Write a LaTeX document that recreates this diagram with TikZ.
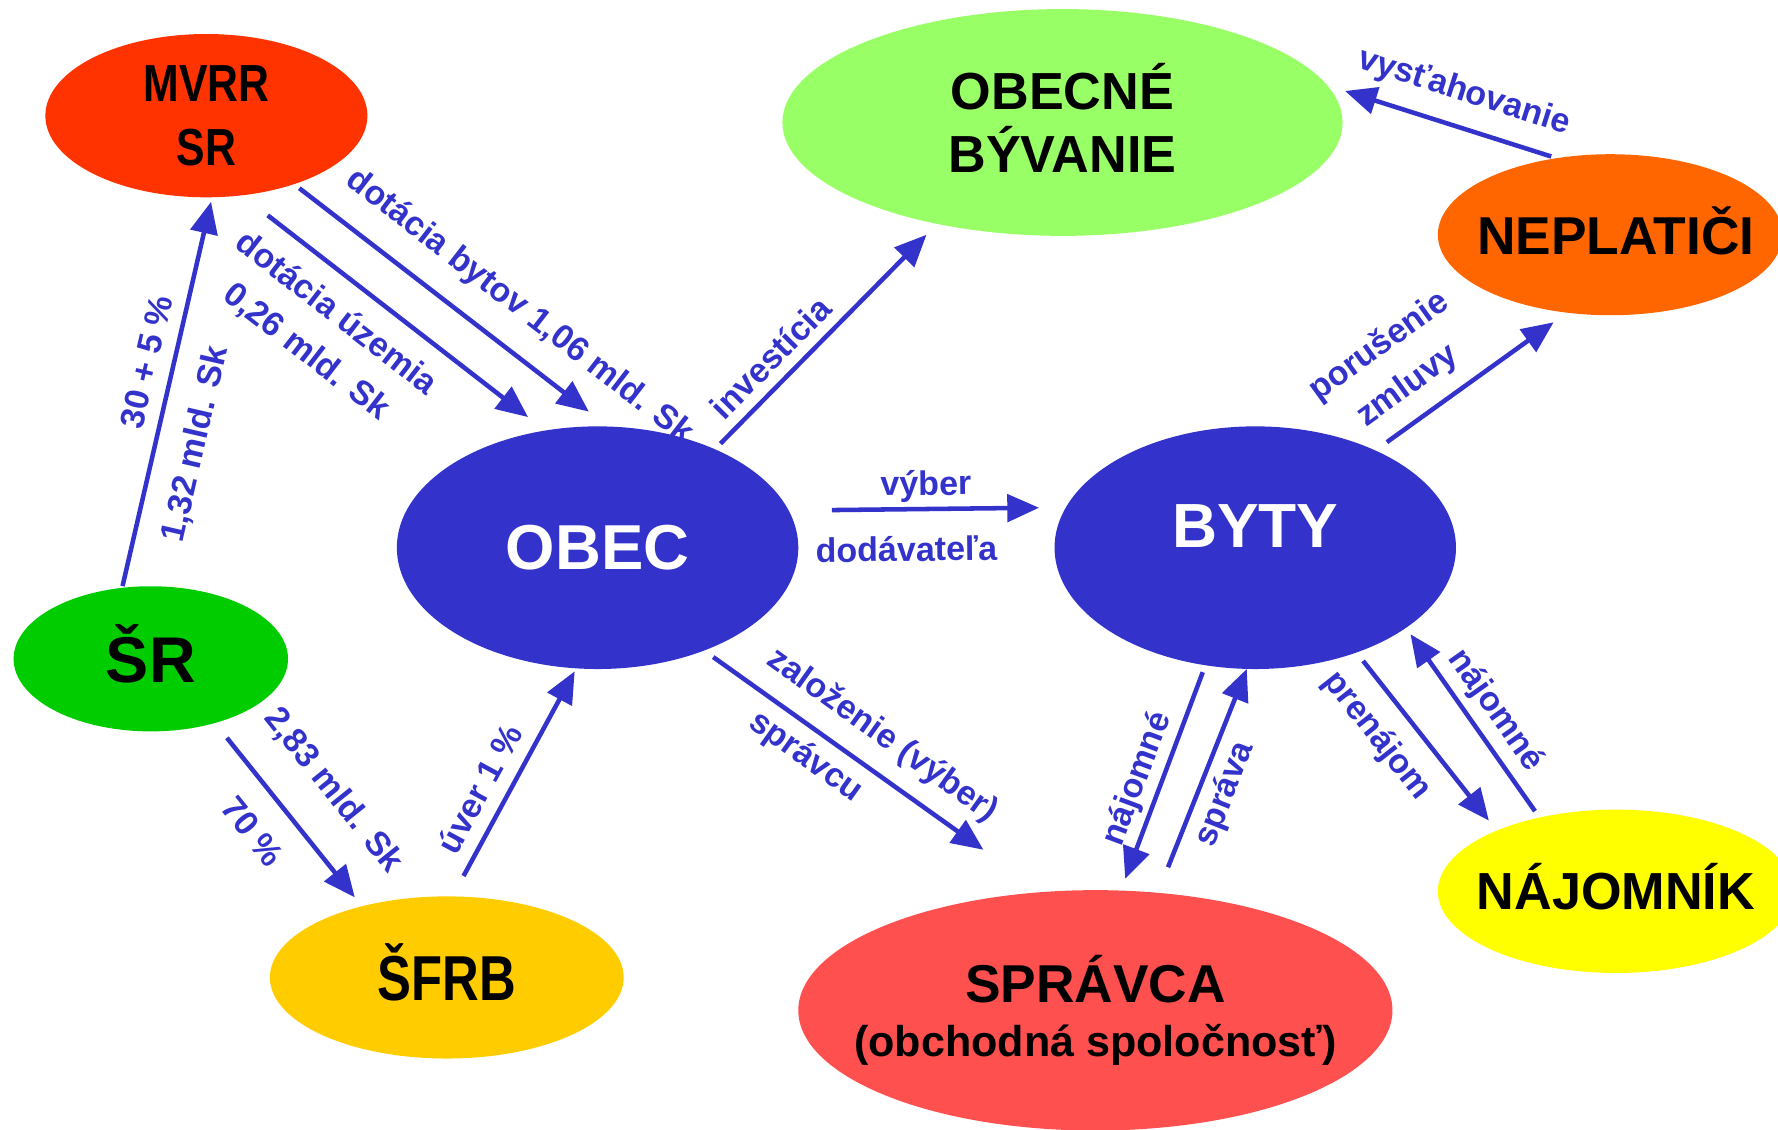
\documentclass[tikz,border=0pt]{standalone}
\usepackage{fontspec}
\setmainfont{Liberation Sans}
\usetikzlibrary{arrows.meta,shapes.geometric}

\definecolor{flowblue}{HTML}{3333CC}
\definecolor{mvrrred}{HTML}{FF3300}
\definecolor{housegreen}{HTML}{99FF66}
\definecolor{debtorange}{HTML}{FF6600}
\definecolor{stategreen}{HTML}{00CC00}
\definecolor{fundyellow}{HTML}{FFCC00}
\definecolor{managerred}{HTML}{FF5050}
\definecolor{tenantyellow}{HTML}{FFFF00}

\begin{document}
\begin{tikzpicture}[
    x=1pt, y=-1pt,
    >={Triangle[length=28pt, width=24pt]},
    place/.style={
        ellipse,
        inner sep=0pt,
        outer sep=0pt,
        align=center
    },
    flow/.style={
        ->,
        draw=flowblue,
        line width=4pt
    },
    flowtext/.style={
        sloped,
        inner sep=0pt,
        align=center,
        text=flowblue,
        font=\bfseries\fontsize{30}{43}\selectfont
    }
]

\useasboundingbox (0,0) rectangle (1568,996);
\clip (0,0) rectangle (1568,996);

% ==================================================
% Actors
% ==================================================

\node[place, fill=mvrrred, minimum width=284pt, minimum height=144pt,
      font=\bfseries\fontsize{46}{57}\selectfont] (mvrr) at (182,102)
    {\scalebox{0.82}[1]{MVRR}\\\scalebox{0.82}[1]{SR}};

\node[place, fill=housegreen, minimum width=494pt, minimum height=200pt,
      text height=89pt, text depth=0pt,
      font=\bfseries\fontsize{46}{56}\selectfont] (obecne) at (937,108)
    {OBECNÉ\\BÝVANIE};

\node[place, fill=debtorange, minimum width=304pt, minimum height=142pt,
      text height=34pt, text depth=0pt,
      font=\bfseries\fontsize{47}{47}\selectfont] (neplat) at (1420,207)
    {\makebox[0pt]{\hspace*{10pt}NEPLATIČI}};

\node[place, fill=stategreen, minimum width=242pt, minimum height=128pt,
      text height=41pt, text depth=0pt,
      font=\bfseries\fontsize{57}{57}\selectfont] (sr) at (133,581)
    {ŠR};

\node[place, fill=flowblue, text=white, minimum width=354pt, minimum height=214pt,
      font=\bfseries\fontsize{56}{56}\selectfont] (obec) at (527,483)
    {OBEC};

\node[place, fill=flowblue, text=white, minimum width=354pt, minimum height=214pt,
      text height=40pt, text depth=40pt,
      font=\bfseries\fontsize{55}{55}\selectfont] (byty) at (1107,483)
    {BYTY};

\node[place, fill=fundyellow, minimum width=312pt, minimum height=143pt,
      text height=40pt, text depth=0pt,
      font=\bfseries\fontsize{56}{56}\selectfont] (sfrb) at (394,862)
    {\scalebox{0.8}[1]{ŠFRB}};

\node[place, fill=managerred, minimum width=524pt, minimum height=212pt,
      font=\bfseries\fontsize{47}{47}\selectfont] (spravca) at (966,891)
    {\makebox[0pt]{SPRÁVCA}\\\makebox[0pt]{\fontsize{38}{47}\selectfont(obchodná spoločnosť)}};

\node[place, fill=tenantyellow, minimum width=314pt, minimum height=144pt,
      text height=33pt, text depth=0pt,
      font=\bfseries\fontsize{46}{46}\selectfont] (najomnik) at (1425,786)
    {\makebox[0pt]{NÁJOMNÍK}};

% ==================================================
% Money from the state
% ==================================================

\draw[flow, shorten <=1.6pt, shorten >=4.1pt]
    (sr.112.9)
    --
    node[flowtext, pos=.563, yshift=24pt] {30 + 5 \%}
    node[flowtext, pos=.39, yshift=-35pt] {1,32 mld. Sk}
    (mvrr.-86.9);

\draw[flow, shorten <=28.9pt, shorten >=19.4pt]
    (mvrr.-66)
    --
    node[flowtext, pos=.383, yshift=-53pt] {dotácia územia\\0,26 mld. Sk}
    (obec.114.8);

\draw[flow, shorten <=5.9pt, shorten >=21.5pt]
    (mvrr.-38)
    --
    node[flowtext, pos=.64, yshift=35.5pt] {dotácia bytov 1,06 mld. Sk}
    (obec.85.2);

\draw[flow, shorten <=16.8pt, shorten >=10.1pt]
    (sr.-45.7)
    --
    node[flowtext, pos=.539, yshift=44pt] {2,83 mld. Sk}
    node[flowtext, pos=.462, yshift=-34pt] {70 \%}
    (sfrb.140.6);

\draw[flow, shorten <=20.5pt, shorten >=3pt]
    (sfrb.86.6)
    --
    node[flowtext, pos=.414, yshift=24.4pt] {úver 1 \%}
    (obec.-100.4);

% ==================================================
% The municipality
% ==================================================

\draw[flow, shorten <=7pt, shorten >=13.5pt]
    (obec.40.2)
    --
    node[flowtext, pos=.329, yshift=22pt] {investícia}
    (obecne.-141);

\draw[flow, shorten <=38.2pt, shorten >=23.7pt]
    (obec.11.8)
    --
    node[flowtext, pos=.496, yshift=20pt] {výber}
    node[flowtext, pos=.423, yshift=-35pt] {dodávateľa}
    (byty.168.2);

\draw[flow, shorten <=9.9pt, shorten >=64.2pt]
    (obec.-44.6)
    --
    node[flowtext, pos=.468, yshift=30.4pt] {založenie (výber)}
    node[flowtext, pos=.347, yshift=-24.5pt] {správcu}
    (spravca.114.6);

% ==================================================
% The flats
% ==================================================

\draw[flow, shorten <=12.6pt, shorten >=14.5pt]
    (byty.39.9)
    --
    node[flowtext, pos=.27, yshift=51pt] {porušenie\\zmluvy}
    (neplat.-119.7);

\draw[flow, shorten <=5pt, shorten >=16.6pt]
    (neplat.125)
    --
    node[flowtext, pos=.448, yshift=30.6pt] {vysťahovanie}
    (obecne.8.35);

\draw[flow, shorten <=6.6pt, shorten >=11pt]
    (byty.-113.5)
    --
    node[flowtext, pos=.542, yshift=20.5pt] {nájomné}
    (spravca.78.9);

\draw[flow, shorten <=24.3pt]
    (spravca.62.6)
    --
    node[flowtext, pos=.483, yshift=-23.3pt] {správa}
    (byty.-94.2);

\draw[flow, shorten <=9.5pt, shorten >=11.2pt]
    (byty.-46.1)
    --
    node[flowtext, pos=.345, yshift=-31.3pt] {prenájom}
    (najomnik.153);

\draw[flow, shorten <=6.9pt, shorten >=6.9pt]
    (najomnik.136.3)
    --
    node[flowtext, pos=.487, yshift=22.7pt] {nájomné}
    (byty.-28.8);

\end{tikzpicture}
\end{document}
